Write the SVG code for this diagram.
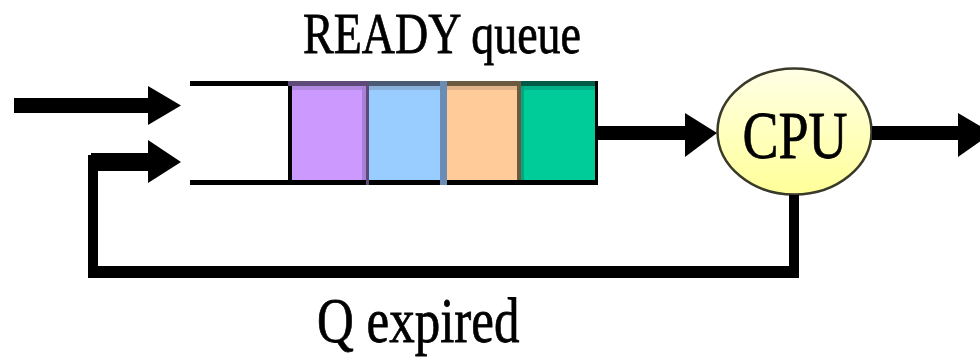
<svg xmlns="http://www.w3.org/2000/svg" width="980" height="358" viewBox="0 0 980 358">
  <defs>
    <style>
      .lbl { font-family: "Liberation Serif", "Times New Roman", serif; fill: #000; stroke: #000; stroke-width: 0.6; }
      .ink { fill: #000; }
    </style>
    <linearGradient id="cpuFill" x1="0" y1="0" x2="0" y2="1">
      <stop offset="0" stop-color="#FFFFE6"/>
      <stop offset="1" stop-color="#FFFF99"/>
    </linearGradient>
  </defs>

  <rect width="980" height="358" fill="#fff"/>

  <!-- ready queue: open-ended slot with four occupied cells -->
  <g id="ready-queue">
    <rect class="ink" x="190" y="81" width="100" height="5"/>
    <rect class="ink" x="190" y="180" width="407" height="5"/>
    <!-- cells -->
    <rect x="288" y="81" width="79" height="99" fill="#CC99FF"/>
    <rect x="367" y="81" width="78" height="99" fill="#99CCFF"/>
    <rect x="445" y="81" width="75" height="99" fill="#FFCC99"/>
    <rect x="520" y="81" width="77" height="99" fill="#00CC99"/>
    <!-- darker top edges -->
    <rect x="288" y="81" width="79" height="5" fill="#5E4A78"/>
    <rect x="367" y="81" width="78" height="5" fill="#4A5A75"/>
    <rect x="445" y="81" width="75" height="5" fill="#6B5A40"/>
    <rect x="520" y="81" width="77" height="5" fill="#005A45"/>
    <rect x="292" y="86" width="75" height="4" fill="#B088E0"/>
    <rect x="367" y="86" width="78" height="4" fill="#88B0D8"/>
    <rect x="445" y="86" width="75" height="4" fill="#E0B488"/>
    <rect x="520" y="86" width="77" height="4" fill="#00B088"/>
    <!-- cell dividers -->
    <rect x="362" y="86" width="4" height="94" fill="#A880D8"/>
    <rect x="366" y="81" width="3" height="104" fill="#5E4A78"/>
    <rect x="440" y="81" width="7" height="104" fill="#6A8DB5"/>
    <rect x="517" y="81" width="4" height="99" fill="#6B5A40"/>
    <rect x="521" y="86" width="3" height="94" fill="#00A880"/>
    <!-- outer edges -->
    <rect class="ink" x="288" y="86" width="4" height="99"/>
    <rect class="ink" x="595" y="81" width="3" height="104"/>
  </g>

  <!-- processor -->
  <g id="cpu">
    <ellipse cx="794.5" cy="131.5" rx="77" ry="63" fill="url(#cpuFill)" stroke="#3A3A2A" stroke-width="2.5"/>
    <text class="lbl" font-size="54" text-anchor="middle" transform="translate(795,158) scale(1,1.26)">CPU</text>
  </g>

  <g id="label-ready">
    <text class="lbl" font-size="46" transform="translate(303,53) scale(1,1.25)">READY queue</text>
  </g>

  <g id="label-expired">
    <text class="lbl" font-size="51" transform="translate(317,342) scale(1,1.26)">Q expired</text>
  </g>

  <!-- connectors -->
  <g id="connectors" class="ink">
    <!-- new arrivals -->
    <rect x="14" y="98" width="136" height="15"/>
    <polygon points="148,86 181,105.5 148,125"/>
    <!-- queue to processor -->
    <rect x="597" y="126" width="90" height="14"/>
    <polygon points="685,113 717,133 685,157"/>
    <!-- processor exit -->
    <rect x="872" y="126" width="88" height="14"/>
    <polygon points="958,113 992,133 958,157"/>
    <!-- quantum expired: back into the queue -->
    <rect x="789" y="195" width="10" height="83"/>
    <rect x="88" y="266" width="711" height="12"/>
    <rect x="88" y="155" width="10" height="123"/>
    <rect x="91" y="153" width="59" height="18"/>
    <polygon points="148,140 181,162 148,183"/>
  </g>
</svg>
